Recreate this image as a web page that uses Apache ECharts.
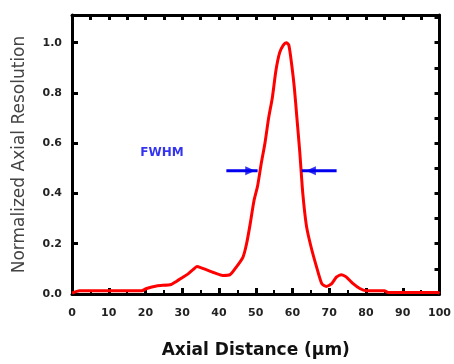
<!DOCTYPE html>
<html>
<head>
<meta charset="utf-8">
<script src="https://cdn.jsdelivr.net/npm/echarts@6/dist/echarts.min.js"></script>
<style>
  html, body { margin: 0; padding: 0; background: #fff; }
  #chart { width: 454px; height: 364px; }
</style>
</head>
<body>
<div id="chart"></div>
<script>
// axial distance (um) and normalized axial resolution
const distance = [0, 2, 10, 19, 20.3, 23, 27, 28.4, 30, 31.6, 33, 34, 35, 37, 39, 41, 43, 44.7, 46.5, 47.5,
  48.5, 49.5, 50.5, 51.5, 52.5, 53.5, 54.5, 55.5, 56.5, 57.5, 58.3, 59, 59.8, 60.5, 61.2, 62, 62.8, 63.8,
  65, 66.5, 68, 69.2, 70.6, 72, 73.3, 74.6, 76.4, 78.3, 80, 85, 86, 95, 99.5, 100]
const resolution = [0.003, 0.013, 0.013, 0.013, 0.022, 0.032, 0.038, 0.05, 0.065, 0.08, 0.098, 0.109, 0.105, 0.094, 0.083, 0.074, 0.077, 0.107, 0.146, 0.2,
  0.28, 0.37, 0.43, 0.52, 0.6, 0.7, 0.78, 0.89, 0.96, 0.99, 1.0, 0.99, 0.91, 0.82, 0.7, 0.56, 0.4, 0.27,
  0.19, 0.11, 0.04, 0.03, 0.04, 0.068, 0.077, 0.068, 0.042, 0.022, 0.013, 0.013, 0.006, 0.006, 0.006, 0.003]

// FWHM annotation (data coordinates)
const fwhmLabel = [24.5, 0.56]
const leftArrow = [[42, 0.49], [50.5, 0.49]]
const leftHead = [48.5, 0.49]
const rightArrow = [[62.5, 0.49], [72, 0.49]]
const rightHead = [65, 0.49]

const xTicks = { min: 0, max: 100, major: 10, minor: 5 }
const yTicks = { min: 0, max: 1.11, major: 0.2, minor: 0.1 }

const chart = echarts.init(document.getElementById('chart'))

const frameLine = { show: true, onZero: false, lineStyle: { color: '#000', width: 3 } }
const labelFont = { fontFamily: 'DejaVu Sans', fontWeight: 'bold', fontSize: 11, color: '#222' }
const blue = '#0000ee'

chart.setOption({
  animation: false,
  grid: { left: 72, right: 14, top: 15, bottom: 64 },
  xAxis: [
    {
      type: 'value',
      position: 'bottom',
      min: xTicks.min,
      max: xTicks.max,
      interval: xTicks.major,
      axisLine: frameLine,
      axisTick: { inside: true, length: 6, lineStyle: { color: '#000', width: 3 } },
      minorTick: { show: true, splitNumber: 2, length: 4, lineStyle: { color: '#000', width: 2 } },
      splitLine: { show: false },
      axisLabel: { ...labelFont, margin: 14 },
      name: 'Axial Distance (μm)',
      nameLocation: 'middle',
      nameGap: 48,
      nameTextStyle: { fontFamily: 'DejaVu Sans', fontWeight: 'bold', fontSize: 17, color: '#111' },
    },
    {
      type: 'value',
      position: 'top',
      min: xTicks.min,
      max: xTicks.max,
      interval: xTicks.minor,
      axisLine: frameLine,
      axisTick: { inside: true, length: 5, lineStyle: { color: '#000', width: 3 } },
      axisLabel: { show: false },
      splitLine: { show: false },
    },
  ],
  yAxis: [
    {
      type: 'value',
      position: 'left',
      min: yTicks.min,
      max: yTicks.max,
      interval: yTicks.major,
      axisLine: frameLine,
      axisTick: { inside: true, length: 6, lineStyle: { color: '#000', width: 3 } },
      splitLine: { show: false },
      axisLabel: {
        ...labelFont,
        margin: 10,
        showMaxLabel: false,
        formatter: (v) => (Math.abs(v / yTicks.major - Math.round(v / yTicks.major)) < 1e-6 ? v.toFixed(1) : ''),
      },
      name: 'Normalized Axial Resolution',
      nameLocation: 'middle',
      nameGap: 44,
      nameTextStyle: { fontFamily: 'DejaVu Sans', fontSize: 17, color: '#444' },
    },
    {
      type: 'value',
      position: 'right',
      min: yTicks.min,
      max: yTicks.max,
      interval: yTicks.minor,
      axisLine: frameLine,
      axisTick: { inside: true, length: 5, lineStyle: { color: '#000', width: 3 } },
      axisLabel: { show: false },
      splitLine: { show: false },
    },
  ],
  series: [
    {
      type: 'line',
      data: distance.map((d, i) => [d, resolution[i]]),
      showSymbol: false,
      smooth: 0.2,
      lineStyle: { color: '#ff0000', width: 3 },
      z: 3,
    },
    {
      type: 'line',
      data: leftArrow,
      showSymbol: false,
      lineStyle: { color: blue, width: 3 },
    },
    {
      type: 'line',
      data: rightArrow,
      showSymbol: false,
      lineStyle: { color: blue, width: 3 },
    },
    {
      type: 'scatter',
      data: [
        { value: leftHead, symbolRotate: -90 },
        { value: rightHead, symbolRotate: 90 },
      ],
      symbol: 'triangle',
      symbolSize: [9, 10],
      itemStyle: { color: blue },
    },
    {
      type: 'scatter',
      data: [fwhmLabel],
      symbolSize: 0,
      label: {
        show: true,
        position: 'inside',
        formatter: 'FWHM',
        fontFamily: 'DejaVu Sans',
        fontWeight: 'bold',
        fontSize: 12,
        color: blue,
      },
    },
  ],
})
</script>
</body>
</html>
